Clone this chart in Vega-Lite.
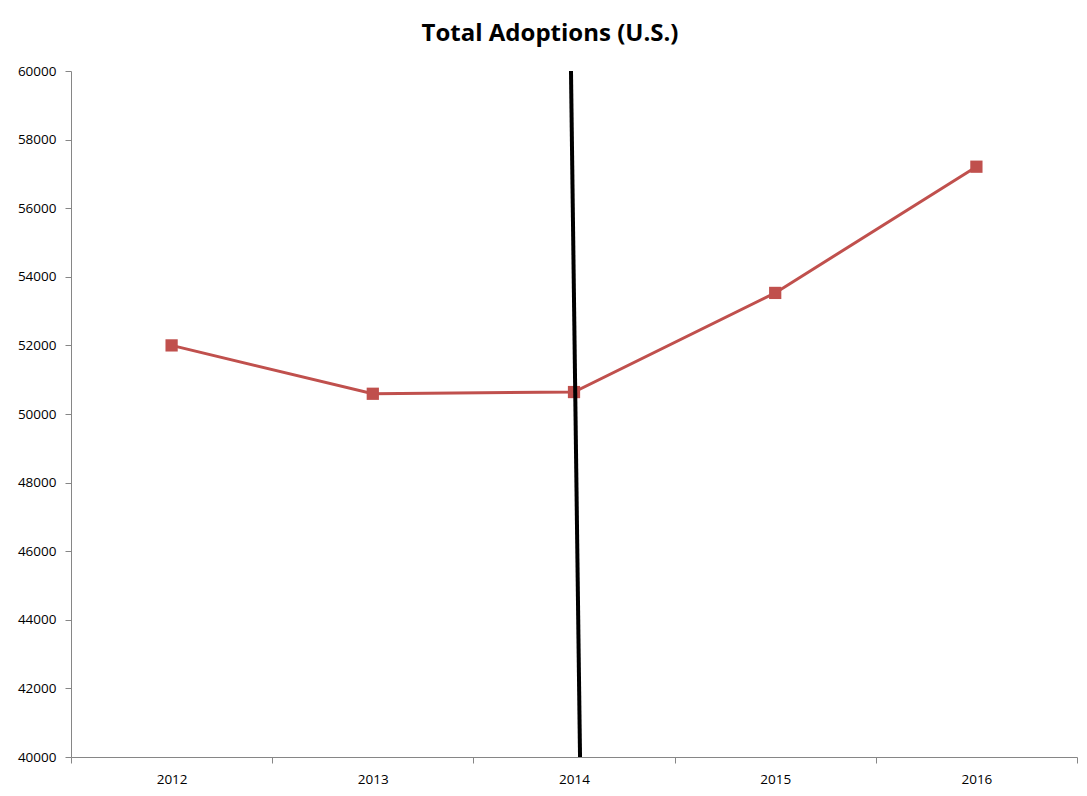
{
  "$schema": "https://vega.github.io/schema/vega-lite/v6.json",
  "autosize": "none",
  "width": 1006,
  "height": 686,
  "padding": {"left": 71, "top": 71, "right": 10, "bottom": 39},
  "background": "white",
  "title": {
    "text": "Total Adoptions (U.S.)",
    "fontSize": 24,
    "font": "Open Sans",
    "fontWeight": "bold",
    "color": "black",
    "anchor": "middle",
    "dx": -24,
    "offset": 18
  },
  "config": {
    "view": {"stroke": null},
    "font": "Open Sans"
  },
  "layer": [
    {
      "data": {"values": [
        {"year": "2012", "adoptions": 52000},
        {"year": "2013", "adoptions": 50590},
        {"year": "2014", "adoptions": 50640},
        {"year": "2015", "adoptions": 53530},
        {"year": "2016", "adoptions": 57210}
      ]},
      "mark": {"type": "line", "color": "#C0504D", "strokeWidth": 3, "point": {"shape": "square", "size": 150, "color": "#C0504D", "filled": true, "opacity": 1}},
      "encoding": {
        "x": {
          "field": "year", "type": "ordinal",
          "scale": {"paddingInner": 0, "paddingOuter": 0},
          "axis": {
            "title": null, "labelAngle": 0, "tickBand": "extent",
            "domainColor": "#868686", "tickColor": "#868686", "tickSize": 6,
            "labelFontSize": 13.5, "labelColor": "black", "labelPadding": 9, "grid": false
          }
        },
        "y": {
          "field": "adoptions", "type": "quantitative",
          "scale": {"domain": [40000, 60000], "nice": false, "zero": false},
          "axis": {
            "title": null, "values": [40000, 42000, 44000, 46000, 48000, 50000, 52000, 54000, 56000, 58000, 60000],
            "format": "d", "grid": false,
            "domainColor": "#868686", "tickColor": "#868686", "tickSize": 6,
            "labelFontSize": 13.5, "labelColor": "black", "labelPadding": 9
          }
        }
      }
    },
    {
      "data": {"values": [
        {"xTop": 2013.985, "xBottom": 2014.03, "yTop": 60000, "yBottom": 40000}
      ]},
      "mark": {"type": "rule", "color": "black", "strokeWidth": 4},
      "encoding": {
        "x": {"field": "xTop", "type": "quantitative", "scale": {"domain": [2011.5, 2016.5], "nice": false, "zero": false}, "axis": null},
        "x2": {"field": "xBottom"},
        "y": {"field": "yTop", "type": "quantitative"},
        "y2": {"field": "yBottom"}
      }
    }
  ],
  "resolve": {"scale": {"x": "independent"}, "axis": {"x": "independent"}}
}
